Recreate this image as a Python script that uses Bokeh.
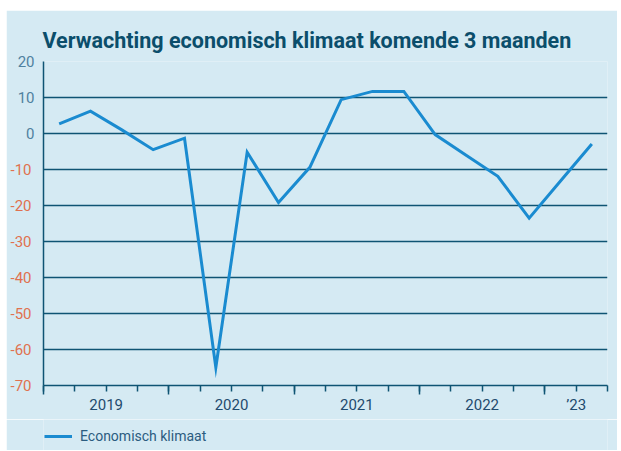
from bokeh.plotting import figure
from bokeh.layouts import column
from bokeh.models import Range1d, LinearAxis, FixedTicker, Grid, Legend, LegendItem
from bokeh.embed import file_html
from bokeh.resources import INLINE

# ---- data ----
quarters = ["2019Q1", "2019Q2", "2019Q3", "2019Q4",
            "2020Q1", "2020Q2", "2020Q3", "2020Q4",
            "2021Q1", "2021Q2", "2021Q3", "2021Q4",
            "2022Q1", "2022Q2", "2022Q3", "2022Q4",
            "2023Q1", "2023Q2"]
klimaat = [2.7, 6.2, 1.0, -4.5, -1.3, -65.0, -5.2, -19.2, -9.4,
           9.4, 11.7, 11.7, -0.3, -6.1, -11.9, -23.5, -13.2, -2.9]
y_ticks = [20, 10, 0, -10, -20, -30, -40, -50, -60, -70]
year_tick_pos = [2, 6, 10, 14, 17]
year_labels = ["2019", "2020", "2021", "2022", "\u201923"]
year_bounds = [0, 4, 8, 12, 16]
quarter_bounds = list(range(len(quarters) + 1))
title_text = "Verwachting economisch klimaat komende 3 maanden"
series_name = "Economisch klimaat"

# ---- styling ----
BG = "#d5eaf3"
DARK = "#0f5473"
LINE = "#1a8bd0"
POS = "#4f819f"
NEG = "#e0714f"
FONT = "Roboto"

x = [i + 0.5 for i in range(len(quarters))]

p = figure(frame_width=564, frame_height=324,
           x_range=Range1d(0, len(quarters)), y_range=Range1d(-70, 20),
           x_axis_type=None, y_axis_type=None,
           output_backend="svg", toolbar_location=None,
           min_border_left=37, min_border_right=10,
           min_border_top=51, min_border_bottom=34,
           background_fill_color=BG, border_fill_color=BG,
           outline_line_color=None)
p.styles = {"border-radius": "14px 14px 0 0"}

p.title.text = title_text
p.title.text_font = FONT
p.title.text_font_style = "bold"
p.title.text_font_size = "21.5px"
p.title.text_color = "#0b4e6b"
p.title.align = "left"
p.title.offset = -1
p.title.standoff = 18

# y axes: positive labels and negative labels in different colours
yt = FixedTicker(ticks=y_ticks, minor_ticks=[])
ya = LinearAxis(ticker=yt,
                major_label_overrides={t: ("" if t < 0 else str(t)) for t in y_ticks},
                major_tick_out=0, major_tick_in=0,
                major_tick_line_color=None, minor_tick_line_color=None,
                axis_line_color=DARK, axis_line_width=1.5,
                major_label_text_color=POS, major_label_text_font=FONT,
                major_label_text_font_size="15px", major_label_standoff=9)
p.add_layout(ya, "left")
yb = LinearAxis(ticker=yt,
                major_label_overrides={t: (str(t) if t < 0 else "") for t in y_ticks},
                major_tick_out=0, major_tick_in=0,
                major_tick_line_color=None, minor_tick_line_color=None,
                axis_line_color=None,
                major_label_text_color=NEG, major_label_text_font=FONT,
                major_label_text_font_size="15px", major_label_standoff=-17)
p.add_layout(yb, "left")

p.add_layout(Grid(dimension=1, ticker=yt, grid_line_color=DARK,
                  grid_line_width=1.5))

# x axes: ticks, then year labels
xa = LinearAxis(ticker=FixedTicker(ticks=year_bounds, minor_ticks=quarter_bounds),
                major_label_overrides={t: "" for t in year_bounds},
                major_label_text_font_size="1px", major_label_standoff=0,
                major_tick_out=9, major_tick_in=0,
                minor_tick_out=6, minor_tick_in=0,
                axis_line_color=DARK, axis_line_width=1.5,
                major_tick_line_color=DARK, major_tick_line_width=1.5,
                minor_tick_line_color=DARK, minor_tick_line_width=1.5)
p.add_layout(xa, "below")
xb = LinearAxis(ticker=FixedTicker(ticks=year_tick_pos, minor_ticks=[]),
                major_label_overrides=dict(zip(year_tick_pos, year_labels)),
                major_tick_out=0, major_tick_in=0,
                axis_line_color=None, major_tick_line_color=None,
                minor_tick_line_color=None,
                major_label_text_color="#1f4b6e", major_label_text_font=FONT,
                major_label_text_font_size="15px", major_label_standoff=1)
p.add_layout(xb, "below")

p.line(x, klimaat, line_color=LINE, line_width=3, line_join="miter")

# legend strip (bottom of the card); its series is kept outside its visible range
pl = figure(frame_width=564, frame_height=31,
            x_range=Range1d(-100, -99), y_range=Range1d(-70, 20),
            x_axis_type=None, y_axis_type=None,
            output_backend="svg", toolbar_location=None,
            min_border_left=37, min_border_right=10,
            min_border_top=0, min_border_bottom=0,
            background_fill_color=BG, border_fill_color=BG,
            outline_line_color=None)
pl.styles = {"border-radius": "0 0 14px 14px"}
r2 = pl.line(x, klimaat, line_color=LINE, line_width=3)
legend = Legend(items=[LegendItem(label=series_name, renderers=[r2])],
                location=(1, 6), orientation="horizontal",
                border_line_color=None, background_fill_alpha=0,
                glyph_width=28, glyph_height=14, label_standoff=8,
                padding=0, margin=0,
                label_text_font=FONT, label_text_font_size="14px",
                label_text_color="#2b5c80")
pl.add_layout(legend)

layout = column(p, pl, spacing=0)
layout.styles = {"margin-left": "6px", "margin-top": "10px"}

open("out.html", "w").write(file_html(layout, INLINE))
